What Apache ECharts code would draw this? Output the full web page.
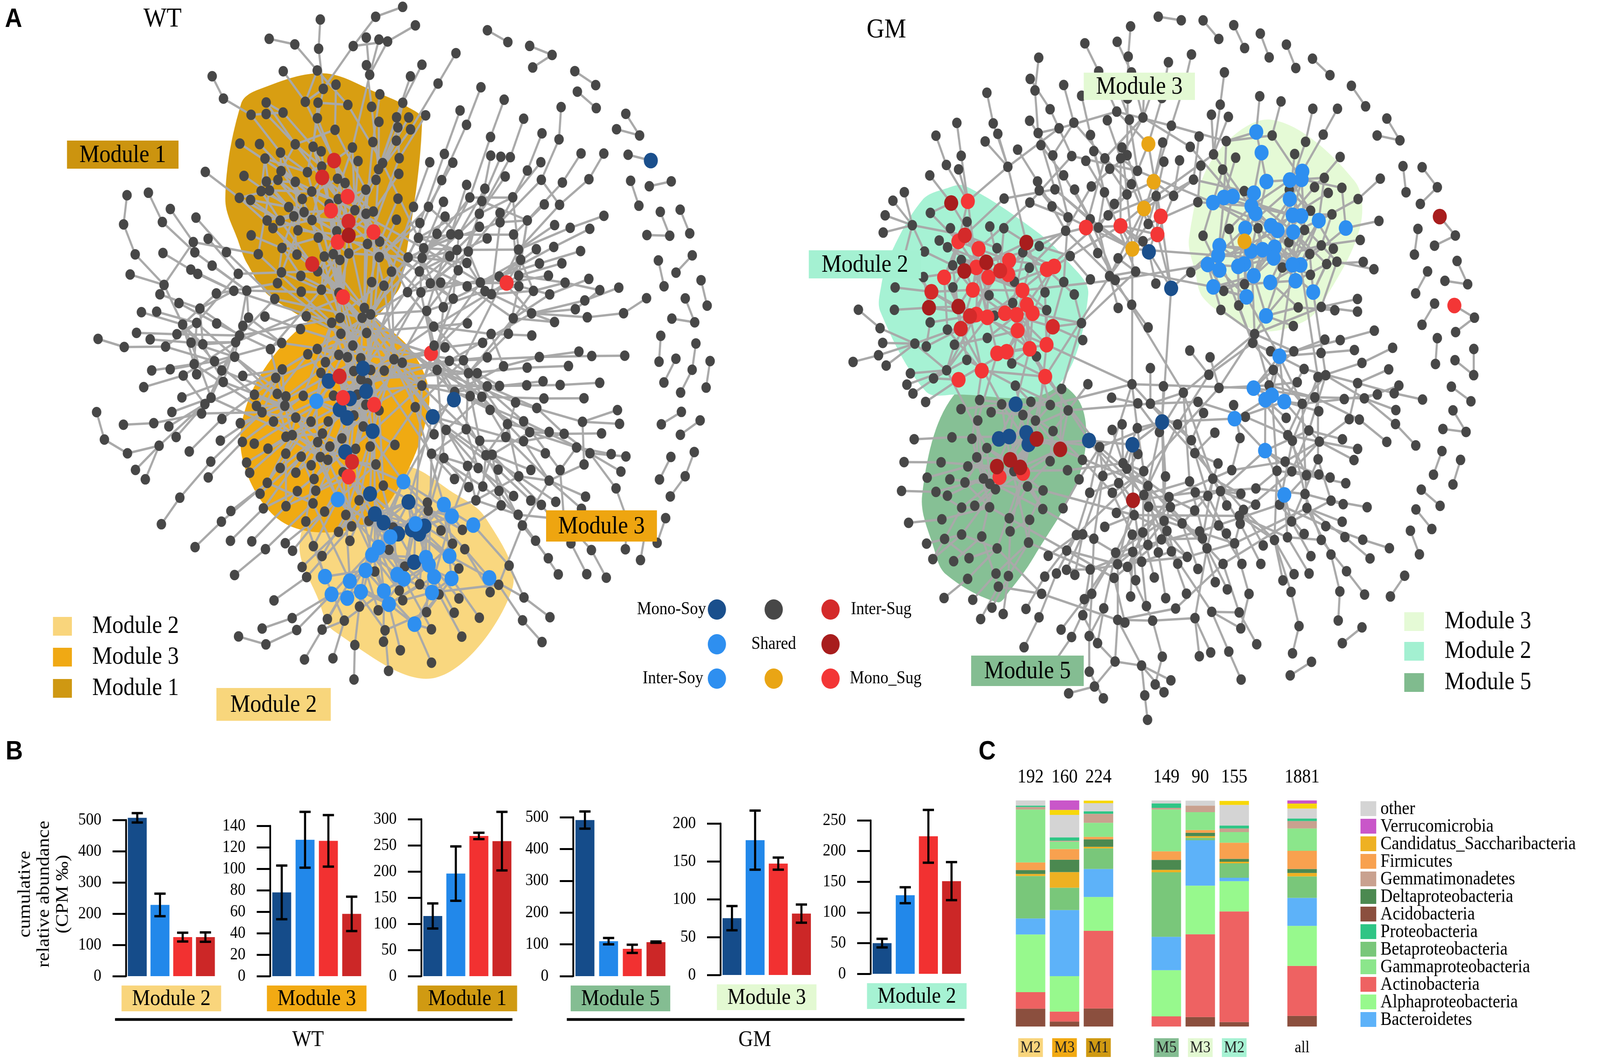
<!DOCTYPE html>
<html lang="en">
<head>
<meta charset="UTF-8">
<title>Co-occurrence networks, module abundance and composition</title>
<script src="https://cdn.jsdelivr.net/npm/echarts@6/dist/echarts.min.js"></script>
<style>
  html, body { margin: 0; padding: 0; background: #fff; overflow: hidden; }
  #wrap { position: fixed; left: 0; top: 0; width: 100vw; height: 100vh; overflow: hidden; }
  #main { width: 4562px; height: 2725px; transform-origin: 0 0; }
</style>
</head>
<body>
<div id="wrap"><div id="main"></div></div>
<script>
// ---------------- panel B: cumulative relative abundance (CPM ‰) ----------------
var groupNames = ['Mono-Soy', 'Inter-Soy', 'Mono_Sug', 'Inter-Sug'];
var groupColors = ['#154c8a', '#2288ea', '#f23131', '#cc2727'];
var bModules = ['Module 2', 'Module 3', 'Module 1', 'Module 5', 'Module 3', 'Module 2'];
var bModuleColors = ['#f9d57c', '#f2aa13', '#d09a12', '#84bd92', '#e3f9d2', '#a6f2d3'];
var bMax = [500, 140, 300, 500, 200, 250];
var bStep = [100, 20, 50, 100, 50, 50];
var bMeans = [
  [507, 228, 125, 125],
  [78, 127, 126, 58],
  [115, 196, 268, 258],
  [491, 110, 86, 107],
  [75, 178, 147, 81],
  [50, 128, 224, 151]
];
var bErrors = [
  [15, 36, 14, 15],
  [25, 26, 24, 16],
  [24, 52, 6, 56],
  [27, 10, 13, 2],
  [16, 39, 8, 12],
  [7, 13, 43, 31]
];

// ---------------- panel C: phylum composition of modules (%) ----------------
var cBars = ['M2', 'M3', 'M1', 'M5', 'M3', 'M2', 'all'];
var cCounts = ['192', '160', '224', '149', '90', '155', '1881'];
var cBarColors = ['#f9d57c', '#f2aa13', '#d09a12', '#84bd92', '#e3f9d2', '#a6f2d3', null];
var phyla = ['Acidobacteria', 'Actinobacteria', 'Alphaproteobacteria', 'Bacteroidetes',
  'Betaproteobacteria', 'Candidatus_Saccharibacteria', 'Deltaproteobacteria', 'Firmicutes',
  'Gammaproteobacteria', 'Gemmatimonadetes', 'Proteobacteria', 'other', 'other (minor)', 'Verrucomicrobia'];
var phylaColors = ['#8b4f3e', '#ee6262', '#97f98d', '#5db2f9', '#79c77a', '#eeb122', '#4b8950',
  '#f8a14f', '#8be68b', '#c9a18f', '#2fc585', '#d4d4d4', '#f7d70a', '#c956c9'];
var acidobacteria = [7.9, 2.2, 8.0, 0, 4.2, 2.0, 4.7];
var actinobacteria = [7.3, 4.4, 34.3, 4.5, 36.6, 48.9, 22.1];
var alphaproteobacteria = [25.5, 15.7, 15.0, 20.4, 21.5, 13.4, 17.7];
var bacteroidetes = [7.1, 29.2, 12.4, 14.8, 20.1, 1.5, 12.4];
var betaproteobacteria = [18.8, 9.9, 9.1, 28.5, 1.1, 6.4, 9.5];
var saccharibacteria = [0.9, 6.9, 0.7, 1.1, 0.7, 0.7, 1.5];
var deltaproteobacteria = [1.7, 5.5, 3.3, 4.4, 1.5, 1.3, 1.8];
var firmicutes = [3.4, 4.7, 1.1, 3.8, 1.2, 7.1, 8.0];
var gammaproteobacteria = [23.4, 3.3, 6.2, 18.5, 7.9, 4.7, 9.9];
var gemmatimonadetes = [1.1, 0.4, 4.0, 0.7, 2.9, 1.6, 3.3];
var proteobacteria = [0.6, 1.5, 1.1, 2.0, 0, 1.3, 1.1];
var otherPhyla = [2.3, 9.9, 3.6, 1.3, 2.2, 9.1, 4.4];
var minorPhyla = [0, 2.2, 1.1, 0, 0, 1.8, 2.2];
var verrucomicrobia = [0, 4.4, 0, 0, 0, 0, 1.5];
var phylaValues = [acidobacteria, actinobacteria, alphaproteobacteria, bacteroidetes, betaproteobacteria,
  saccharibacteria, deltaproteobacteria, firmicutes, gammaproteobacteria, gemmatimonadetes,
  proteobacteria, otherPhyla, minorPhyla, verrucomicrobia];
var legendOrder = ['other', 'Verrucomicrobia', 'Candidatus_Saccharibacteria', 'Firmicutes', 'Gemmatimonadetes',
  'Deltaproteobacteria', 'Acidobacteria', 'Proteobacteria', 'Betaproteobacteria', 'Gammaproteobacteria',
  'Actinobacteria', 'Alphaproteobacteria', 'Bacteroidetes'];

// ---------------- panel A: networks (node counts per cluster, in ring order) ----------------
var nodeTypes = ['Shared', 'Mono-Soy', 'Inter-Soy', 'Mono_Sug', 'Inter-Sug', 'Shared-Sug', 'Shared-Both'];
var nodeColors = ['#474747', '#1a4f8c', '#2e8ff0', '#f33636', '#d42a2a', '#a81d1d', '#e9a515'];

var wtClusters = ['East', 'Module 2', 'Module 3', 'West', 'Module 1', 'North'];
var wtCounts = [
  [60, 2, 0, 1, 0, 0, 0],
  [30, 9, 27, 0, 0, 0, 0],
  [60, 8, 1, 3, 2, 0, 0],
  [50, 0, 0, 0, 0, 0, 0],
  [80, 0, 0, 5, 4, 1, 0],
  [60, 0, 0, 1, 0, 0, 0]
];
var wtDensity = [0.8, 1.2, 1.2, 0.7, 1.2, 0.8];
var wtHairs = [22, 20, 10, 35, 30, 30];
var wtLinks = [[0, 1, 10], [1, 2, 12], [2, 3, 10], [3, 4, 10], [4, 5, 10], [5, 0, 12],
  [2, 0, 16], [2, 4, 16], [2, 5, 10], [0, 4, 6], [1, 3, 6]];
var wtPairCount = 24;
var wtPairAccents = {2: 1};
var wtModuleFill = {'Module 1': '#d89e12', 'Module 3': '#f0aa12', 'Module 2': '#f9d77f'};

var gmClusters = ['East', 'South-east', 'Module 5', 'Module 2', 'North-west', 'Module 3'];
var gmCounts = [
  [55, 0, 8, 0, 0, 0, 0],
  [85, 3, 0, 0, 0, 1, 0],
  [45, 5, 0, 2, 0, 5, 0],
  [40, 0, 0, 26, 6, 6, 0],
  [50, 2, 0, 4, 0, 0, 4],
  [30, 0, 40, 0, 0, 0, 1]
];
var gmDensity = [0.7, 1.0, 1.2, 1.2, 0.7, 1.2];
var gmHairs = [30, 40, 15, 20, 30, 12];
var gmLinks = [[0, 1, 14], [1, 2, 12], [2, 3, 10], [3, 4, 12], [4, 5, 10], [5, 0, 10], [1, 3, 3], [4, 1, 3]];
var gmPairCount = 28;
var gmPairAccents = {9: 5, 17: 3};
var gmModuleFill = {'Module 3': '#e5fad6', 'Module 2': '#a6f2d4', 'Module 5': '#86c095'};

var SERIF = 'Liberation Serif';
var SANS = 'Liberation Sans';

// fit the 4562 x 2725 drawing into whatever viewport the page gets
var mainEl = document.getElementById('main');
var fitX = window.innerWidth / 4562, fitY = window.innerHeight / 2725;
if (fitX > 0 && fitY > 0 && (Math.abs(fitX - 1) > 0.002 || Math.abs(fitY - 1) > 0.002)) {
  mainEl.style.transform = 'scale(' + fitX + ',' + fitY + ')';
}

function buildNetwork(prefix, clusters, counts, density, hairs, links, pairCount, pairAccents) {
  var nodes = [], edges = [], cores = [];
  function addNode(t) {
    nodes.push({name: prefix + nodes.length, category: t, symbolSize: t === 0 ? 27 : 40});
    return nodes.length - 1;
  }
  function link(a, b) { if (a !== b) edges.push({source: prefix + a, target: prefix + b}); }
  clusters.forEach(function (cl, c) {
    var row = counts[c];
    var colored = [];
    for (var t = 1; t < row.length; t++) for (var k = 0; k < row[t]; k++) colored.push(t);
    var greyIdx = [];
    for (k = 0; k < row[0]; k++) greyIdx.push(addNode(0));
    var colIdx = colored.map(function (t) { return addNode(t); });
    var local = colIdx.concat(greyIdx);
    var m = local.length, nc = colIdx.length;
    for (var l = 1; l < m; l++) link(local[l], local[Math.floor((l - 1) / 2)]);
    var extra = Math.round(density[c] * m / 2);
    for (var i = 0; i < extra; i++) link(local[(i * 2) % m], local[(i * 7 + 3) % m]);
    for (l = 0; l + 2 < nc; l += 2) link(colIdx[l], colIdx[l + 2]);
    cores.push(local);
    for (k = 0; k < hairs[c]; k++) {
      var h = addNode(0);
      link(local[m - 1 - ((k * 13) % m)], h);
      if (k % 4 === 0) link(h, addNode(0));
    }
  });
  links.forEach(function (lk) {
    var a = cores[lk[0]], b = cores[lk[1]];
    for (var i = 0; i < lk[2]; i++) link(a[(i * 5 + 1) % a.length], b[(i * 9 + 2) % b.length]);
  });
  for (var p = 0; p < pairCount; p++) {
    var a = addNode(pairAccents[p] || 0), b = addNode(0);
    link(a, b);
    if (p % 4 === 1) link(b, addNode(0));
  }
  return {nodes: nodes, edges: edges, cores: cores};
}

var wtNet = buildNetwork('wt', wtClusters, wtCounts, wtDensity, wtHairs, wtLinks, wtPairCount, wtPairAccents);
var gmNet = buildNetwork('gm', gmClusters, gmCounts, gmDensity, gmHairs, gmLinks, gmPairCount, gmPairAccents);

function graphSeries(net, box) {
  return {
    type: 'graph', layout: 'force',
    left: box[0], top: box[1], width: box[2], height: box[3],
    data: net.nodes, links: net.edges,
    categories: nodeTypes.map(function (n, i) { return {name: n, itemStyle: {color: nodeColors[i]}}; }),
    force: {initLayout: 'circular', repulsion: 80, gravity: 0.125, edgeLength: 66, layoutAnimation: false},
    roam: false, silent: true,
    symbol: 'circle',
    itemStyle: {borderWidth: 0},
    lineStyle: {color: '#a9a9a9', width: 6, opacity: 1, curveness: 0},
    label: {show: false},
    emphasis: {disabled: true}
  };
}

// ---------------- panel B layout ----------------
var bLeft = [359, 770, 1201, 1634, 2054, 2482];
var bTop = [2100, 2115, 2098, 2093, 2109, 2101];
var bBottom = [2500, 2500, 2500, 2500, 2497, 2494];
var bWidth = [259, 266, 263, 270, 264, 264];

var grids = [], xAxes = [], yAxes = [], series = [];
bModules.forEach(function (mod, i) {
  grids.push({left: bLeft[i], top: bTop[i], width: bWidth[i], height: bBottom[i] - bTop[i]});
  xAxes.push({
    gridIndex: i, type: 'category', data: groupNames,
    axisLine: {show: false}, axisTick: {show: false}, axisLabel: {show: false},
    name: mod, nameLocation: 'middle', nameGap: 24,
    nameTextStyle: {fontFamily: SERIF, fontSize: 58, color: '#000', backgroundColor: bModuleColors[i],
      padding: [6, 30, 2, 30], verticalAlign: 'top', lineHeight: 58}
  });
  yAxes.push({
    gridIndex: i, type: 'value', min: 0, max: bMax[i], interval: bStep[i],
    axisLine: {show: true, lineStyle: {color: '#000', width: 5}},
    axisTick: {show: true, length: 38, lineStyle: {color: '#000', width: 5}},
    axisLabel: {fontFamily: SERIF, fontSize: 44, color: '#000', margin: 70},
    splitLine: {show: false}
  });
  series.push({
    type: 'bar', xAxisIndex: i, yAxisIndex: i, barWidth: 54, clip: false,
    data: bMeans[i].map(function (v, k) { return {value: v, itemStyle: {color: groupColors[k]}}; })
  });
  series.push({
    type: 'custom', xAxisIndex: i, yAxisIndex: i, clip: false, z: 5,
    data: bMeans[i].map(function (v, k) { return [k, v - bErrors[i][k], v + bErrors[i][k]]; }),
    renderItem: function (params, api) {
      var top = api.coord([api.value(0), api.value(2)]);
      var bot = api.coord([api.value(0), api.value(1)]);
      var cap = 16;
      var st = {stroke: '#000', lineWidth: 6};
      return {type: 'group', children: [
        {type: 'line', shape: {x1: top[0], y1: top[1], x2: bot[0], y2: bot[1]}, style: st},
        {type: 'line', shape: {x1: top[0] - cap, y1: top[1], x2: top[0] + cap, y2: top[1]}, style: st},
        {type: 'line', shape: {x1: bot[0] - cap, y1: bot[1], x2: bot[0] + cap, y2: bot[1]}, style: st}
      ]};
    }
  });
});

// ---------------- panel C ----------------
var cSlots = [0, 1, 2, -1, 3, 4, 5, -1, 6];
var cCats = cSlots.map(function (s, i) { return s < 0 ? 'gap' + i : 'bar' + s; });
function withGaps(arr) { return cSlots.map(function (s) { return s < 0 ? null : arr[s]; }); }
var cRich = {plain: {fontFamily: SERIF, fontSize: 42, color: '#000', padding: [4, 6, 2, 6]}};
cBarColors.forEach(function (col, k) {
  if (col) cRich['b' + k] = {fontFamily: SERIF, fontSize: 42, color: '#222', backgroundColor: col, padding: [4, 6, 2, 6]};
});
var cg = grids.length;
grids.push({left: 2890, top: 2050, width: 871, height: 579});
xAxes.push({
  gridIndex: cg, type: 'category', data: cCats, position: 'bottom',
  axisLine: {show: false}, axisTick: {show: false},
  axisLabel: {interval: 0, margin: 30, rich: cRich, formatter: function (v, idx) {
    var s = cSlots[idx];
    if (s < 0) return '';
    return cBarColors[s] ? '{b' + s + '|' + cBars[s] + '}' : '{plain|' + cBars[s] + '}';
  }}
});
xAxes.push({
  gridIndex: cg, type: 'category', data: cCats, position: 'top',
  axisLine: {show: false}, axisTick: {show: false},
  axisLabel: {interval: 0, margin: 34, fontFamily: SERIF, fontSize: 50, color: '#000', formatter: function (v, idx) {
    var s = cSlots[idx];
    return s < 0 ? '' : cCounts[s];
  }}
});
yAxes.push({gridIndex: cg, type: 'value', min: 0, max: 100, show: false});
phyla.forEach(function (name, p) {
  series.push({
    type: 'bar', name: name, stack: 'phyla', xAxisIndex: cg, yAxisIndex: cg,
    barWidth: 84, data: withGaps(phylaValues[p]), itemStyle: {color: phylaColors[p]}
  });
});

series.push(graphSeries(wtNet, [230, -20, 1836, 1828]));
series.push(graphSeries(gmNet, [2405, 14, 1828, 1822]));
var wtSeriesIndex = series.length - 2, gmSeriesIndex = series.length - 1;

// ---------------- decorations: panel letters, labels, legends ----------------
var graphic = [];
function txt(x, y, s, size, opts) {
  opts = opts || {};
  graphic.push({type: 'text', x: x, y: y, rotation: opts.rotation || 0, z: 10,
    style: {text: s, fontFamily: opts.family || SERIF, fontSize: size, fontWeight: opts.weight || 'normal',
      fill: '#000', align: opts.align || 'left', verticalAlign: 'middle', lineHeight: opts.lineHeight}});
}
function box(x, y, w, h, fill, label, size) {
  graphic.push({type: 'rect', shape: {x: x, y: y, width: w, height: h}, style: {fill: fill}, z: 10});
  if (label) txt(x + w / 2, y + h / 2 + 2, label, size, {align: 'center'});
}
txt(14, 50, 'A', 68, {family: SANS, weight: 'bold'});
txt(16, 1926, 'B', 68, {family: SANS, weight: 'bold'});
txt(2790, 1926, 'C', 68, {family: SANS, weight: 'bold'});
txt(409, 50, 'WT', 70);
txt(2471, 78, 'GM', 70);

box(191, 360, 318, 72, '#cc940f', 'Module 1', 64);
box(1557, 1307, 316, 80, '#eea510', 'Module 3', 64);
box(617, 1762, 326, 84, '#f8d67c', 'Module 2', 64);
[['Module 2', '#f9d57c', 1604], ['Module 3', '#f0a914', 1683], ['Module 1', '#cf9812', 1763]].forEach(function (r) {
  box(151, r[2] - 24, 54, 48, r[1]);
  txt(263, r[2], r[0], 64);
});
box(3090, 186, 317, 70, '#e3f9d3', 'Module 3', 64);
box(2306, 641, 320, 72, '#a4f1d2', 'Module 2', 64);
box(2769, 1679, 321, 78, '#84bd92', 'Module 5', 64);
[['Module 3', '#e5fad6', 1592], ['Module 2', '#a3f0d1', 1668], ['Module 5', '#80bb8e', 1748]].forEach(function (r) {
  box(4004, r[2] - 24, 56, 48, r[1]);
  txt(4119, r[2], r[0], 64);
});

// node type legend
[[2044, 1561, 1], [2206, 1561, 0], [2368, 1561, 4], [2044, 1650, 2], [2368, 1650, 5],
 [2044, 1738, 2], [2206, 1738, 6], [2368, 1738, 3]].forEach(function (d) {
  graphic.push({type: 'circle', shape: {cx: d[0], cy: d[1], r: 26}, style: {fill: nodeColors[d[2]]}, z: 10});
});
txt(2013, 1561, 'Mono-Soy', 46, {align: 'right'});
txt(2426, 1561, 'Inter-Sug', 46);
txt(2206, 1650, 'Shared', 46, {align: 'center'});
txt(2005, 1738, 'Inter-Soy', 46, {align: 'right'});
txt(2423, 1738, 'Mono_Sug', 46);

// panel C legend (13 rows, 45 px pitch)
legendOrder.forEach(function (name, k) {
  var y = 2071 + k * 45;
  box(3879, y - 19, 45, 38, phylaColors[phyla.indexOf(name)]);
  txt(3936, y + 1, name, 48);
});

// panel B group lines and axis title
graphic.push({type: 'line', shape: {x1: 328, y1: 2611, x2: 1461, y2: 2611}, style: {stroke: '#000', lineWidth: 7}, z: 10});
graphic.push({type: 'line', shape: {x1: 1616, y1: 2611, x2: 2750, y2: 2611}, style: {stroke: '#000', lineWidth: 7}, z: 10});
txt(878, 2664, 'WT', 58, {align: 'center'});
txt(2152, 2664, 'GM', 58, {align: 'center'});
txt(126, 2290, 'cumulative\nrelative abundance\n(CPM \u2030)', 50, {align: 'center', rotation: Math.PI / 2, lineHeight: 54});

var option = {
  animation: false,
  textStyle: {fontFamily: SERIF},
  grid: grids,
  xAxis: xAxes,
  yAxis: yAxes,
  graphic: graphic,
  series: series
};

var chart = echarts.init(mainEl);
chart.setOption(option);

// ---------------- module hulls from the laid-out node positions ----------------
function convexHull(points) {
  var pts = points.slice().sort(function (a, b) { return a[0] - b[0] || a[1] - b[1]; });
  function cross(o, a, b) { return (a[0] - o[0]) * (b[1] - o[1]) - (a[1] - o[1]) * (b[0] - o[0]); }
  var lower = [], upper = [], i;
  for (i = 0; i < pts.length; i++) {
    while (lower.length >= 2 && cross(lower[lower.length - 2], lower[lower.length - 1], pts[i]) <= 0) lower.pop();
    lower.push(pts[i]);
  }
  for (i = pts.length - 1; i >= 0; i--) {
    while (upper.length >= 2 && cross(upper[upper.length - 2], upper[upper.length - 1], pts[i]) <= 0) upper.pop();
    upper.push(pts[i]);
  }
  upper.pop(); lower.pop();
  return lower.concat(upper);
}
function drawHulls(seriesIndex, net, clusters, fills) {
  var model = chart.getModel ? chart.getModel() : chart._model;
  var data = model.getSeriesByIndex(seriesIndex).getData();
  clusters.forEach(function (name, c) {
    if (!fills[name]) return;
    var pts = net.cores[c].map(function (idx) {
      return chart.convertToPixel({seriesIndex: seriesIndex}, data.getItemLayout(idx));
    });
    var cx = 0, cy = 0;
    pts.forEach(function (p) { cx += p[0]; cy += p[1]; });
    cx /= pts.length; cy /= pts.length;
    pts.sort(function (a, b) {
      return Math.hypot(a[0] - cx, a[1] - cy) - Math.hypot(b[0] - cx, b[1] - cy);
    });
    pts = pts.slice(0, Math.ceil(pts.length * 0.9));
    var hull = convexHull(pts).map(function (p) {
      var dx = p[0] - cx, dy = p[1] - cy, d = Math.hypot(dx, dy) || 1;
      return [p[0] + dx / d * 40, p[1] + dy / d * 40];
    });
    chart.getZr().add(new echarts.graphic.Polygon({
      z: 1, silent: true, shape: {points: hull, smooth: 0.35}, style: {fill: fills[name]}
    }));
  });
}
drawHulls(wtSeriesIndex, wtNet, wtClusters, wtModuleFill);
drawHulls(gmSeriesIndex, gmNet, gmClusters, gmModuleFill);
</script>
</body>
</html>
